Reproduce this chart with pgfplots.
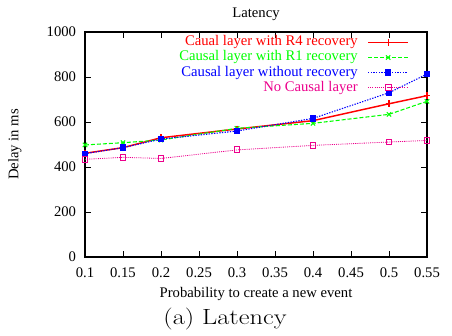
\documentclass[border=0pt]{standalone}
\usepackage{pgfplots}
\pgfplotsset{compat=1.18}
\usetikzlibrary{calc}
\usepackage{graphicx}
\usepackage{fontspec}
\setmainfont{Liberation Serif}
\newfontfamily\lmfont{Latin Modern Roman}
\newcommand{\gf}{\fontsize{11}{12.5}\selectfont}
\begin{document}
\begin{tikzpicture}
\begin{axis}[
  name=ax,
  scale only axis,
  width=256.5pt, height=168.75pt,
  xmin=0.1, xmax=0.55, ymin=0, ymax=1000,
  xtick={0.1,0.15,...,0.56},
  ytick={0,200,400,600,800,1000},
  xticklabels={0.1,0.15,0.2,0.25,0.3,0.35,0.4,0.45,0.5,0.55},
  yticklabels={0,200,400,600,800,1000},
  tick align=inside,
  major tick length=4.5pt,
  tick style={black, line width=0.6pt},
  axis line style={black, line width=0.8pt},
  /pgf/number format/assume math mode=true,
  ticklabel style={font=\gf},
  xticklabel style={anchor=base, inner sep=0pt, yshift=-15pt},
  yticklabel style={anchor=east, inner sep=0pt, xshift=-6.5pt},
  xlabel={Probability to create a new event},
  xlabel style={at={(axis description cs:0.5,-0.178)}, anchor=base, font=\gf},
  ylabel={Delay in ms},
  ylabel style={at={(axis description cs:-0.2047,0.5)}, anchor=center, font=\gf},
  legend style={at={(axis description cs:0.947,0.987)}, anchor=north east, draw=none, fill=none,
    inner sep=0pt, outer sep=0pt,
    legend cell align=right, font=\gf,
    nodes={inner sep=0.25pt, text height=8pt, text depth=2.8pt},
    column sep=7pt},
  legend plot pos=right,
  legend image code/.code={\draw[mark repeat=2,mark phase=2] plot coordinates {(0pt,0pt) (15pt,0pt) (30pt,0pt)};},
]
\addplot[red, line width=1.1pt, mark=+, mark size=2.5pt, mark options={solid, line width=0.8pt}]
  coordinates {(0.1,461) (0.15,486) (0.2,530) (0.3,569) (0.4,606) (0.5,681) (0.55,717)};
\addlegendentry{\textcolor{red}{Caual layer with R4 recovery}}
\addplot[green, line width=0.8pt, dash pattern=on 3pt off 1.5pt, mark=x, mark size=2.3pt, mark options={solid, line width=0.8pt}]
  coordinates {(0.1,498) (0.15,508) (0.2,520) (0.3,572) (0.4,594) (0.5,634) (0.55,692)};
\addlegendentry{\textcolor{green}{Causal layer with R1 recovery}}
\addplot[blue, line width=0.8pt, dash pattern=on 1pt off 1pt, mark=square*, mark size=2pt, mark options={solid}]
  coordinates {(0.1,459) (0.15,486) (0.2,524) (0.3,560) (0.4,616) (0.5,730) (0.55,813)};
\addlegendentry{\textcolor{blue}{Causal layer without recovery}}
\addplot[magenta, line width=0.6pt, dash pattern=on 0.8pt off 0.8pt, mark=square, mark size=2.2pt, mark options={solid, line width=0.8pt}]
  coordinates {(0.1,434) (0.15,443) (0.2,438) (0.3,476) (0.4,496) (0.5,511) (0.55,518)};
\addlegendentry{\textcolor{magenta}{No Causal layer}}
\end{axis}
\node[anchor=base, inner sep=0pt, font=\gf] at ($(ax.north)+(0,10.9pt)$) {Latency};
\path (ax.south west) ++(105pt,-50.25pt) node[anchor=base, inner sep=0pt] {\scalebox{1.2}[1]{\lmfont\fontsize{16.5}{19}\selectfont (a)~Latency}};
\pgfresetboundingbox
\path[use as bounding box] ($(ax.south west)+(-63.75pt,-58.5pt)$) rectangle ($(ax.north east)+(18.75pt,24pt)$);
\end{tikzpicture}
\end{document}
